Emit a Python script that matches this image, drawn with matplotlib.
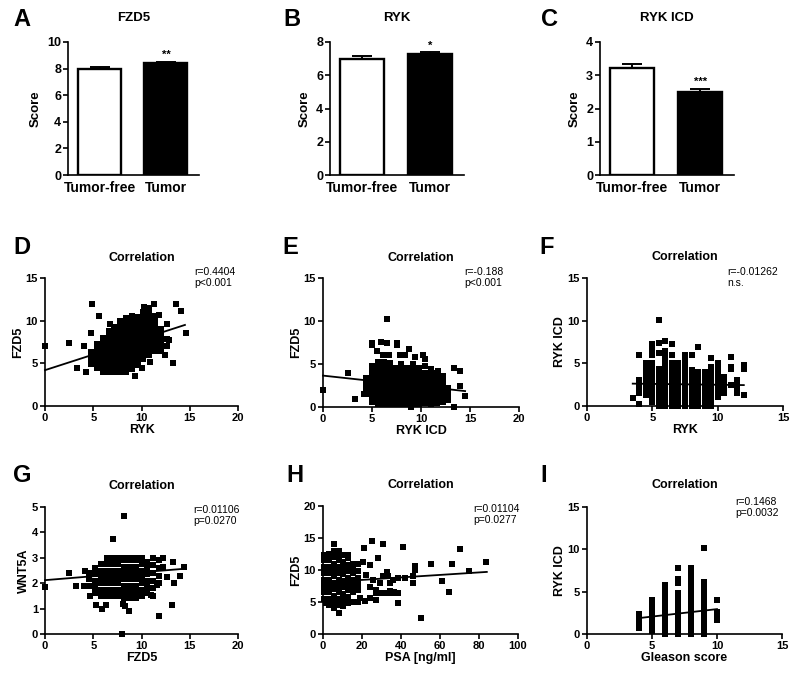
import matplotlib
matplotlib.use("Agg")
import matplotlib.pyplot as plt

plt.rcParams['font.family'] = ['Liberation Sans', 'DejaVu Sans']
plt.rcParams['font.weight'] = 'bold'
plt.rcParams['axes.labelweight'] = 'bold'

# ---------------- data ----------------
groups = ['Tumor-free', 'Tumor']
A_mean = [7.95, 8.42]; A_err = [0.17, 0.11]
B_mean = [6.97, 7.27]; B_err = [0.16, 0.12]
C_mean = [3.23, 2.50]; C_err = [0.10, 0.10]

# D: RYK vs FZD5
D_col_x = [4.8, 5.4, 6.0, 6.6, 7.2, 7.8, 8.4, 9.0, 9.6, 10.2, 10.8, 11.4, 12.0, 12.6]
D_col_y = [
    [4.9, 5.6, 6.3],
    [4.5, 5.2, 5.9, 6.6, 7.3],
    [4.0, 4.7, 5.4, 6.1, 6.8, 7.5, 8.0],
    [4.0, 4.7, 5.4, 6.1, 6.8, 7.5, 8.2, 8.8],
    [4.0, 4.7, 5.4, 6.1, 6.8, 7.5, 8.2, 8.9, 9.3],
    [4.0, 4.7, 5.4, 6.1, 6.8, 7.5, 8.2, 8.9, 9.6, 10.0],
    [4.0, 4.7, 5.4, 6.1, 6.8, 7.5, 8.2, 8.9, 9.6, 10.3],
    [4.3, 5.0, 5.7, 6.4, 7.1, 7.8, 8.5, 9.2, 9.9, 10.5],
    [4.8, 5.5, 6.2, 6.9, 7.6, 8.3, 9.0, 9.7, 10.4],
    [5.5, 6.2, 6.9, 7.6, 8.3, 9.0, 9.7, 10.4, 11.0],
    [6.0, 6.7, 7.4, 8.1, 8.8, 9.5, 10.2, 10.9, 11.5],
    [6.5, 7.2, 7.9, 8.6, 9.3, 10.0, 10.6],
    [6.4, 7.1, 7.8, 8.5, 9.0],
    [7.0, 7.8],
]
D_out_x = [0.0, 2.5, 3.3, 4.0, 4.2, 4.8, 4.9, 5.6, 6.7, 10.0, 10.9, 9.3, 13.3, 13.6, 14.1, 14.6, 12.6, 11.8, 11.3, 10.3, 12.4, 12.8]
D_out_y = [7.0, 7.4, 4.5, 7.0, 4.0, 8.5, 12.0, 10.5, 9.6, 4.5, 5.1, 3.5, 5.0, 12.0, 11.1, 8.5, 9.6, 10.7, 12.0, 11.6, 6.0, 7.7]
D_fit_x = [0.0, 14.5]; D_fit_y = [4.2, 9.5]

# E: RYK ICD vs FZD5
E_col_x = [4.4, 5.0, 5.6, 6.2, 6.8, 7.4, 8.0, 8.6, 9.2, 9.8, 10.4, 11.0, 11.6, 12.2, 12.8]
E_col_y = [
    [1.5, 2.2, 2.9, 3.4],
    [0.6, 1.3, 2.0, 2.7, 3.4, 4.1, 4.8],
    [0.3, 1.0, 1.7, 2.4, 3.1, 3.8, 4.5, 5.2],
    [0.3, 1.0, 1.7, 2.4, 3.1, 3.8, 4.5, 5.2],
    [0.3, 1.0, 1.7, 2.4, 3.1, 3.8, 4.5, 5.1],
    [0.3, 1.0, 1.7, 2.4, 3.1, 3.8, 4.5],
    [0.3, 1.0, 1.7, 2.4, 3.1, 3.8, 4.5, 5.0],
    [0.3, 1.0, 1.7, 2.4, 3.1, 3.8, 4.5],
    [0.3, 1.0, 1.7, 2.4, 3.1, 3.8, 4.5, 5.0],
    [0.3, 1.0, 1.7, 2.4, 3.1, 3.8, 4.5],
    [0.5, 1.2, 1.9, 2.6, 3.3, 4.0, 4.8],
    [0.3, 1.0, 1.7, 2.4, 3.1, 3.8, 4.4],
    [0.5, 1.2, 1.9, 2.6, 3.3, 4.0],
    [0.6, 1.3, 2.0, 2.7, 3.4],
    [0.8, 1.5, 2.2],
]
E_out_x = [0.0, 2.6, 3.3, 5.0, 5.0, 5.95, 6.5, 6.56, 7.55, 7.55, 8.8, 5.5, 6.1, 6.7, 7.9, 8.4, 9.4, 10.2, 10.4, 13.4, 14.0, 14.0, 14.5, 13.4, 9.0, 4.2, 11.7, 12.2]
E_out_y = [2.0, 3.9, 0.9, 7.5, 7.2, 7.6, 10.2, 7.4, 7.5, 7.2, 6.8, 6.5, 6.1, 6.0, 6.0, 6.0, 5.8, 6.0, 5.6, 4.5, 4.2, 2.4, 1.3, 0.0, 0.0, 1.5, 4.2, 3.6]
E_fit_x = [0.0, 14.5]; E_fit_y = [3.65, 1.85]

# F: RYK vs RYK ICD
F_col_x = [3.5, 4.0, 4.5, 5.0, 5.5, 6.0, 6.5, 7.0, 7.5, 8.0, 8.5, 9.0, 9.5, 10.0, 10.5, 11.0, 11.5, 12.0]
F_col_y = [
    [0.9],
    [0.2, 1.5, 2.0, 2.5, 3.0, 6.0],
    [1.3, 1.8, 2.3, 2.8, 3.3, 3.8, 4.4, 5.0],
    [0.5, 1.0, 1.5, 2.0, 2.5, 3.0, 3.5, 4.0, 4.5, 5.0, 6.0, 6.5, 7.0, 7.3],
    [0.0, 0.5, 1.0, 1.5, 2.0, 2.5, 3.0, 3.5, 4.0, 4.3, 6.2, 7.4, 10.1],
    [0.0, 0.5, 1.0, 1.5, 2.0, 2.5, 3.0, 3.5, 4.0, 4.5, 5.0, 5.5, 6.0, 6.5, 7.6],
    [0.0, 0.5, 1.0, 1.5, 2.0, 2.5, 3.0, 3.5, 4.0, 4.5, 5.0, 6.0, 7.3],
    [0.0, 0.5, 1.0, 1.5, 2.0, 2.5, 3.0, 3.5, 4.0, 4.5, 5.0],
    [0.0, 0.5, 1.0, 1.5, 2.0, 2.5, 3.0, 3.5, 4.0, 4.5, 5.0, 5.5, 6.0],
    [0.0, 0.5, 1.0, 1.5, 2.0, 2.5, 3.0, 3.5, 4.2, 6.0],
    [0.0, 0.5, 1.0, 1.5, 2.0, 2.5, 3.0, 3.5, 4.0, 6.9],
    [0.0, 0.5, 1.0, 1.5, 2.0, 2.5, 3.0, 3.5, 4.0],
    [0.0, 0.5, 1.0, 1.5, 2.0, 2.5, 3.0, 3.5, 4.0, 4.6, 5.6],
    [1.0, 1.5, 2.0, 2.5, 3.0, 3.5, 4.0, 4.5, 5.0],
    [1.5, 2.0, 2.5, 3.0, 3.4],
    [2.5, 4.3, 4.6, 5.8],
    [1.5, 2.0, 2.5, 3.0],
    [1.3, 4.3, 4.8],
]
F_fit_x = [3.5, 12.0]; F_fit_y = [2.62, 2.45]

# G: FZD5 vs WNT5A
G_col_x = [4.6, 5.2, 5.8, 6.4, 7.0, 7.6, 8.2, 8.8, 9.4, 10.0, 10.6, 11.2, 11.8]
G_col_y = [
    [1.9, 2.15, 2.4],
    [1.6, 1.85, 2.1, 2.35, 2.6],
    [1.5, 1.75, 2.0, 2.25, 2.5, 2.75],
    [1.5, 1.75, 2.0, 2.25, 2.5, 2.75, 3.0],
    [1.5, 1.75, 2.0, 2.25, 2.5, 2.75, 3.0],
    [1.5, 1.75, 2.0, 2.25, 2.5, 2.75, 3.0],
    [1.4, 1.65, 1.9, 2.15, 2.4, 2.65, 2.9, 3.0],
    [1.4, 1.65, 1.9, 2.15, 2.4, 2.65, 2.9, 3.0],
    [1.4, 1.65, 1.9, 2.15, 2.4, 2.65, 2.9, 3.0],
    [1.5, 1.75, 2.0, 2.25, 2.5, 2.75, 3.0],
    [1.6, 1.85, 2.1, 2.35, 2.6, 2.85],
    [1.5, 1.8, 2.1, 2.4, 2.7, 3.0],
    [2.0, 2.3, 2.6, 2.9],
]
G_out_x = [0.0, 2.5, 3.2, 4.0, 4.1, 4.7, 7.0, 8.2, 8.0, 8.7, 11.8, 13.2, 5.3, 5.9, 6.3, 8.1, 8.3, 13.3, 13.4, 14.0, 14.4, 12.6, 12.2, 9.1, 9.8, 11.0, 11.6, 12.2]
G_out_y = [1.85, 2.4, 1.9, 1.9, 2.5, 1.5, 3.75, 4.65, 0.0, 0.9, 0.7, 1.15, 1.15, 1.0, 1.15, 1.2, 1.1, 2.85, 2.0, 2.3, 2.65, 2.25, 3.0, 1.48, 1.54, 1.54, 1.93, 2.65]
G_fit_x = [0.0, 14.5]; G_fit_y = [2.12, 2.57]

# H: PSA vs FZD5
H_col_x = [0.5, 3.0, 5.5, 8.0, 10.5, 13.0, 15.5, 18.0]
H_col_y = [
    [5.5, 6.5, 7.5, 8.5, 9.5, 10.5, 11.5, 12.3],
    [4.5, 5.5, 6.5, 7.5, 8.5, 9.5, 10.5, 11.5, 12.5],
    [4.0, 5.0, 6.0, 7.0, 8.0, 9.0, 10.0, 11.0, 12.0, 13.0, 14.0],
    [3.3, 4.5, 5.5, 6.5, 7.5, 8.5, 9.5, 10.5, 11.5, 12.5, 13.0],
    [4.3, 5.3, 6.3, 7.3, 8.3, 9.3, 10.3, 11.3, 12.3],
    [4.8, 5.8, 6.8, 7.8, 8.8, 9.8, 10.8, 11.8, 12.3],
    [5.0, 6.5, 7.5, 8.5, 9.5, 10.5, 11.0],
    [5.0, 6.8, 7.8, 8.8, 9.8, 11.0],
]
H_out_x = [20.9, 25.3, 30.8, 41.0, 70.1, 83.8, 55.6, 65.9, 74.9, 47.0, 47.0, 61.2, 64.6, 50.1, 46.2, 46.2,
           38.5, 38.5, 35.9, 34.2, 38.5, 35.9, 34.2, 33.3, 28.3, 20.6, 24.0, 22.3, 25.7, 24.0, 27.4, 29.0, 30.9,
           32.6, 19.2, 21.4, 24.0, 27.0, 27.0, 30.0, 32.6, 36.4, 42.0, 1.7]
H_out_y = [13.4, 14.6, 14.1, 13.6, 13.3, 11.3, 10.9, 10.9, 9.9, 10.6, 10.0, 8.3, 6.5, 2.45, 9.1, 8.0,
           4.8, 6.4, 6.4, 6.7, 8.7, 8.4, 7.9, 9.0, 11.8, 11.3, 10.8, 9.2, 8.4, 7.4, 6.9, 7.9, 9.0,
           9.7, 5.6, 5.2, 5.6, 5.3, 6.4, 6.4, 6.4, 6.5, 8.8, 4.8]
H_fit_x = [0.0, 84.0]; H_fit_y = [8.06, 9.7]

# I: Gleason score vs RYK ICD
I_col_x = [4, 5, 6, 7, 8, 9, 10]
I_col_y = [
    [0.7, 1.2, 1.7, 2.4],
    [0.3, 0.8, 1.3, 1.8, 2.3, 2.8, 3.3, 4.0],
    [0.0, 0.5, 1.0, 1.5, 2.0, 2.5, 3.0, 3.5, 4.0, 4.5, 5.0, 5.5, 5.8],
    [0.0, 0.5, 1.0, 1.5, 2.0, 2.5, 3.0, 3.5, 4.0, 4.5, 4.8, 6.0, 6.5, 7.8],
    [0.0, 0.5, 1.0, 1.5, 2.0, 2.5, 3.0, 3.5, 4.0, 4.5, 5.0, 5.5, 6.0, 6.5, 7.0, 7.5, 7.8],
    [0.0, 0.5, 1.0, 1.5, 2.0, 2.5, 3.0, 3.5, 4.0, 4.5, 5.0, 5.5, 6.2, 10.2],
    [1.6, 2.1, 2.6, 4.0],
]
I_fit_x = [4.0, 10.0]; I_fit_y = [1.88, 2.94]

# ---------------- figure ----------------
W, H = 800, 679
fig = plt.figure(figsize=(8.0, 6.79), dpi=100)


def px_axes(l, r, t, b):
    return fig.add_axes([l / W, 1 - b / H, (r - l) / W, (b - t) / H])


def ftext(x, y, s, **kw):
    fig.text(x / W, 1 - y / H, s, **kw)


def style(ax, lw=1.2):
    for s in ['top', 'right']:
        ax.spines[s].set_visible(False)
    for s in ['left', 'bottom']:
        ax.spines[s].set_linewidth(lw)
    ax.tick_params(direction='out', length=3.5, width=lw, labelsize=8, pad=1.5)


def expand(col_x, col_y, out_x=(), out_y=()):
    xs, ys = [], []
    for cx, cys in zip(col_x, col_y):
        for cy in cys:
            xs.append(cx)
            ys.append(cy)
    return xs + list(out_x), ys + list(out_y)


def bar_panel(ax, means, errs, star, ymax, ystep, title, cx):
    xs = list(range(len(groups)))
    ax.bar(xs, means, width=0.65, color=['white', 'black'], edgecolor='black', linewidth=1.7, zorder=2)
    ax.errorbar(xs, means, yerr=[[0] * len(errs), errs], fmt='none', ecolor='black',
                elinewidth=1.4, capsize=7.5, capthick=1.4, zorder=1)
    ax.annotate(star, (1, means[1] + errs[1]), xytext=(0, 1), textcoords='offset points',
                ha='center', va='bottom', fontsize=8)
    ax.set_xlim(-0.48, 1.5)
    ax.set_ylim(0, ymax)
    ax.set_yticks([ystep * i for i in range(int(round(ymax / ystep)) + 1)])
    style(ax)
    ax.tick_params(axis='y', labelsize=9)
    ax.set_xticks(xs, groups, fontsize=10)
    ax.tick_params(axis='x', length=0, pad=4)
    ax.set_ylabel('Score', fontsize=9.5, labelpad=4)
    ftext(cx, 18, title, ha='center', va='center', fontsize=9.5, fontweight='bold')


def scatter_panel(ax, xs, ys, fx, fy, xmax, xstep, ymax, ystep, xlabel, ylabel):
    ax.scatter(xs, ys, marker='s', s=24, c='black', linewidths=0, clip_on=False, zorder=3)
    ax.plot(fx, fy, color='black', lw=1.3, zorder=4, clip_on=False)
    ax.set_xlim(0, xmax)
    ax.set_ylim(0, ymax)
    ax.set_xticks([xstep * i for i in range(int(round(xmax / xstep)) + 1)])
    ax.set_yticks([ystep * i for i in range(int(round(ymax / ystep)) + 1)])
    style(ax)
    ax.set_xlabel(xlabel, fontsize=9, labelpad=1)
    ax.set_ylabel(ylabel, fontsize=9, labelpad=1)


# Row 1 bars
axA = px_axes(68, 199, 42, 175)
bar_panel(axA, A_mean, A_err, '**', 10, 2, 'FZD5', 134)
axB = px_axes(330, 464, 42, 175)
bar_panel(axB, B_mean, B_err, '*', 8, 2, 'RYK', 397)
axC = px_axes(600, 734, 42, 175)
bar_panel(axC, C_mean, C_err, '***', 4, 1, 'RYK ICD', 667)

# Row 2
axD = px_axes(45, 238, 278, 406)
x, y = expand(D_col_x, D_col_y, D_out_x, D_out_y)
scatter_panel(axD, x, y, D_fit_x, D_fit_y, 20, 5, 15, 5, 'RYK', 'FZD5')
axE = px_axes(323, 519, 278, 407)
x, y = expand(E_col_x, E_col_y, E_out_x, E_out_y)
scatter_panel(axE, x, y, E_fit_x, E_fit_y, 20, 5, 15, 5, 'RYK ICD', 'FZD5')
axF = px_axes(587, 783, 278, 406)
x, y = expand(F_col_x, F_col_y)
scatter_panel(axF, x, y, F_fit_x, F_fit_y, 15, 5, 15, 5, 'RYK', 'RYK ICD')

# Row 3
axG = px_axes(45, 238, 507, 634)
x, y = expand(G_col_x, G_col_y, G_out_x, G_out_y)
scatter_panel(axG, x, y, G_fit_x, G_fit_y, 20, 5, 5, 1, 'FZD5', 'WNT5A')
axH = px_axes(323, 518, 506, 634)
x, y = expand(H_col_x, H_col_y, H_out_x, H_out_y)
scatter_panel(axH, x, y, H_fit_x, H_fit_y, 100, 20, 20, 5, 'PSA [ng/ml]', 'FZD5')
axI = px_axes(587, 782, 507, 634)
x, y = expand(I_col_x, I_col_y)
scatter_panel(axI, x, y, I_fit_x, I_fit_y, 15, 5, 15, 5, 'Gleason score', 'RYK ICD')

# titles for correlation panels
for cx, cy in [(142, 258), (421, 258), (685, 257), (142, 486), (421, 485), (685, 485)]:
    ftext(cx, cy, 'Correlation', ha='center', va='center', fontsize=9, fontweight='bold')

# statistics annotations
stats = [(194, 272, 'r=0.4404', 'p<0.001'), (464, 272, 'r=-0.188', 'p<0.001'),
         (727, 272, 'r=-0.01262', 'n.s.'), (193, 510, 'r=0.01106', 'p=0.0270'),
         (473, 509, 'r=0.01104', 'p=0.0277'), (735, 502, 'r=0.1468', 'p=0.0032')]
for sx, sy, r, p in stats:
    ftext(sx, sy, r, ha='left', va='center', fontsize=7.5, fontweight='normal')
    ftext(sx, sy + 11, p, ha='left', va='center', fontsize=7.5, fontweight='normal')

# panel letters
letters = [('A', 22, 20), ('B', 292, 20), ('C', 549, 20), ('D', 22, 248), ('E', 290, 247),
           ('F', 547, 247), ('G', 22, 475), ('H', 295, 475), ('I', 544, 475)]
for s, lx, ly in letters:
    ftext(lx, ly, s, ha='center', va='center', fontsize=17, fontweight='bold')

fig.savefig('out.png', dpi=100)
